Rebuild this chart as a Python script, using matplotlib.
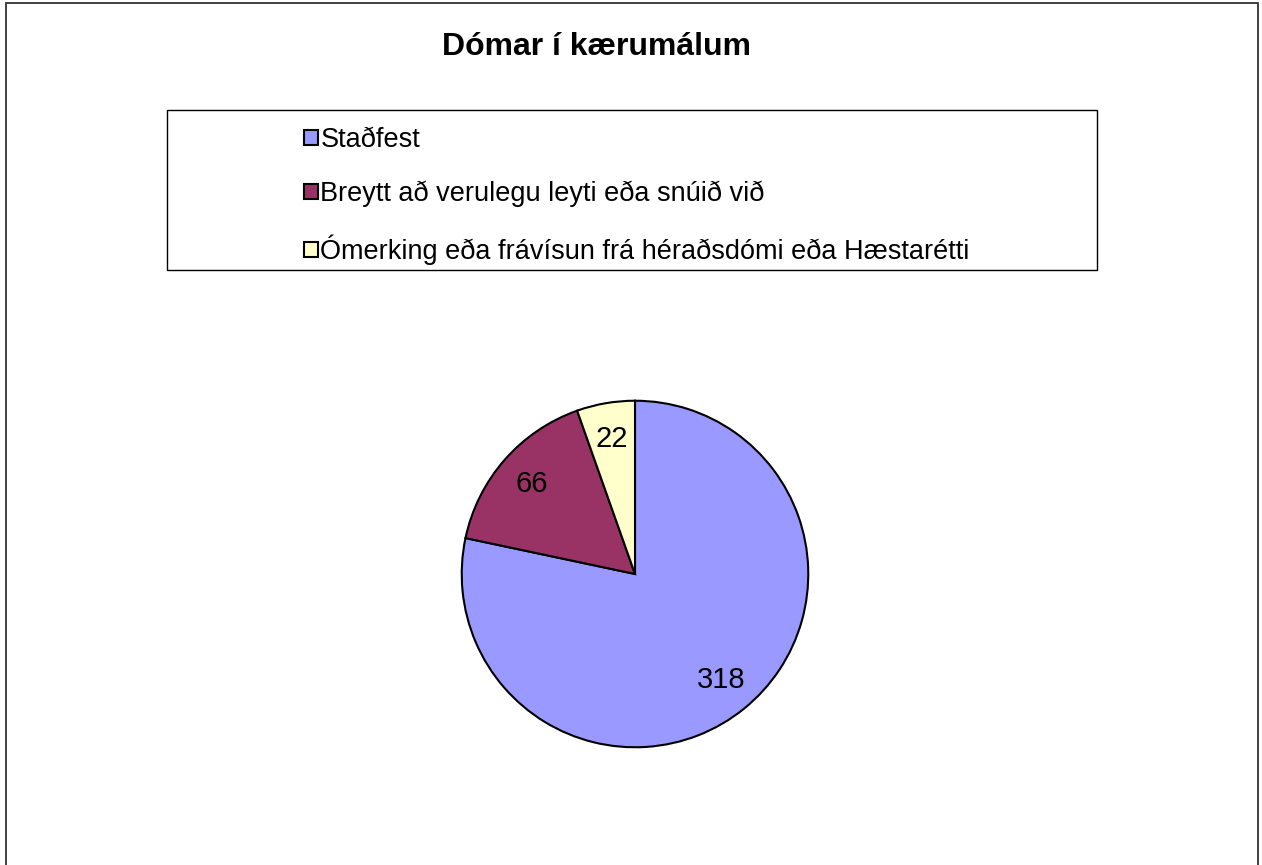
import matplotlib.pyplot as plt
from matplotlib.patches import Rectangle

plt.rcParams['font.family'] = ['Liberation Sans', 'DejaVu Sans']

title = "Dómar í kærumálum"
labels = ["Staðfest",
          "Breytt að verulegu leyti eða snúið við",
          "Ómerking eða frávísun frá héraðsdómi eða Hæstarétti"]
values = [318, 66, 22]
colors = ["#9999FF", "#993366", "#FFFFCC"]

W, H = 1262, 865
fig = plt.figure(figsize=(W / 100, H / 100), dpi=100)

# outer chart border (bottom edge falls outside the image)
fig.patches.append(Rectangle((6 / W, -0.05), 1252 / W, 1.05 - 3 / H,
                             transform=fig.transFigure, fill=False,
                             edgecolor="#333333", lw=1.3))

fig.text(597 / W, 1 - 47 / H, title, ha="center", va="center",
         fontsize=23, fontweight="bold")

# pie: centre (635, 574), radius 175 px
r = 175
ax = fig.add_axes([(635 - r) / W, (H - 574 - r) / H, 2 * r / W, 2 * r / H])
vals = iter(values)
wedges, texts, autotexts = ax.pie(values, colors=colors, startangle=90,
                                  counterclock=False, radius=1,
                                  autopct=lambda p: str(next(vals)),
                                  pctdistance=0.79,
                                  wedgeprops=dict(edgecolor="black", linewidth=1.5),
                                  textprops=dict(fontsize=21))
ax.set_xlim(-1.01, 1.01)
ax.set_ylim(-1.01, 1.01)
ax.set_aspect("equal")
ax.axis("off")

# legend box
fig.patches.append(Rectangle((167 / W, 1 - 270 / H), 930 / W, 160 / H,
                             transform=fig.transFigure, fill=False,
                             edgecolor="black", lw=1.0))
fig.legend(wedges, labels, loc="upper left",
           bbox_to_anchor=(304 / W, 1 - 127 / H), frameon=False,
           fontsize=19.5, handlelength=0.5, handleheight=0.5,
           handletextpad=0.1, labelspacing=1.02, borderaxespad=0,
           borderpad=0)

fig.savefig("out.png", dpi=100)
